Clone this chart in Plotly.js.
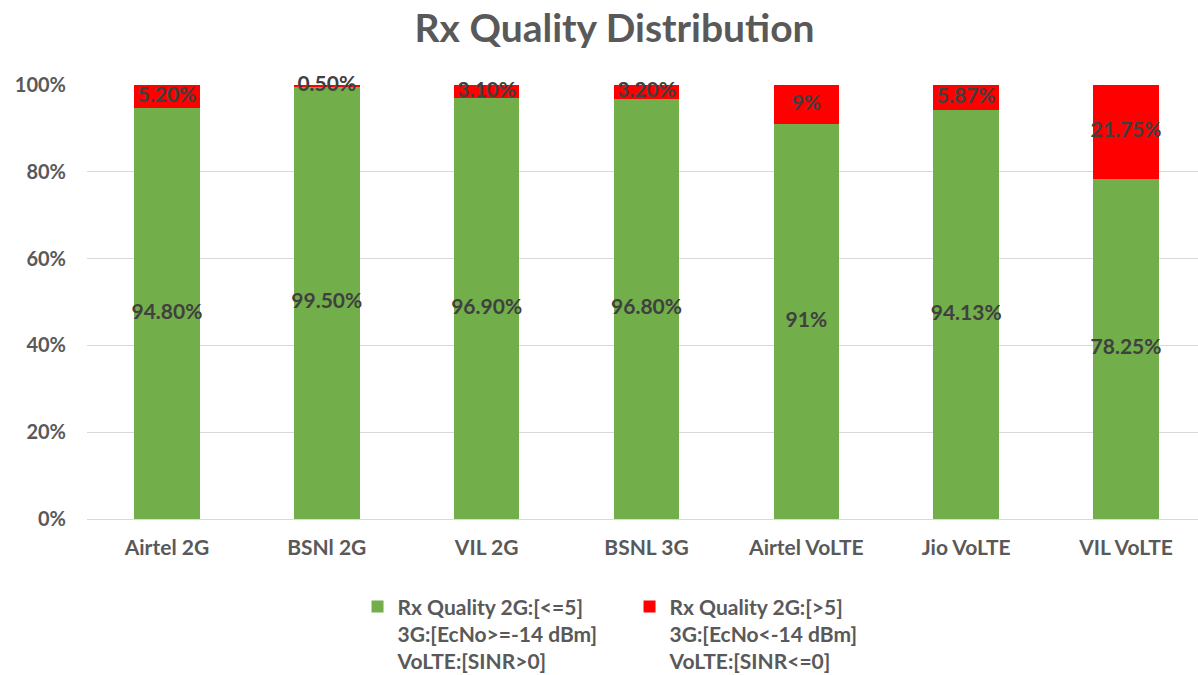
<!DOCTYPE html>
<html>
<head>
<meta charset="utf-8">
<script src="https://cdn.plot.ly/plotly-3.0.1.min.js"></script>
<style>html,body{margin:0;padding:0;background:#fff;}#chart{width:1198px;height:675px;}</style>
</head>
<body>
<div id="chart"></div>
<script>
const categories = ["Airtel 2G", "BSNl 2G", "VIL 2G", "BSNL 3G", "Airtel VoLTE", "Jio VoLTE", "VIL VoLTE"];
const goodValues = [94.8, 99.5, 96.9, 96.8, 91, 94.13, 78.25];
const badValues = [5.2, 0.5, 3.1, 3.2, 9, 5.87, 21.75];
const goodLabels = ["94.80%", "99.50%", "96.90%", "96.80%", "91%", "94.13%", "78.25%"];
const badLabels = ["5.20%", "0.50%", "3.10%", "3.20%", "9%", "5.87%", "21.75%"];
const yTickVals = [0, 20, 40, 60, 80, 100];
const yTickText = ["0%", "20%", "40%", "60%", "80%", "100%"];
const goodName = "Rx Quality 2G:[<=5]<br>3G:[EcNo>=-14 dBm]<br>VoLTE:[SINR>0]";
const badName = "Rx Quality 2G:[>5]<br>3G:[EcNo<-14 dBm]<br>VoLTE:[SINR<=0]";

const FONT = "Lato, 'Open Sans', sans-serif";
const goodMid = goodValues.map(v => v / 2);
const badMid = badValues.map((v, i) => goodValues[i] + v / 2);

const traces = [
  {type: "bar", name: goodName, x: categories, y: goodValues, width: 0.41,
   marker: {color: "#72AE4A"}, hoverinfo: "skip"},
  {type: "bar", name: badName, x: categories, y: badValues, width: 0.41,
   marker: {color: "#FF0000"}, hoverinfo: "skip"},
  {type: "scatter", mode: "text", x: categories, y: goodMid, text: goodLabels,
   textfont: {family: FONT, size: 21, color: "#404040", weight: "bold"},
   showlegend: false, hoverinfo: "skip", cliponaxis: false},
  {type: "scatter", mode: "text", x: categories, y: badMid, text: badLabels,
   textfont: {family: FONT, size: 21, color: "#404040", weight: "bold"},
   showlegend: false, hoverinfo: "skip", cliponaxis: false}
];

const layout = {
  width: 1198, height: 675,
  paper_bgcolor: "#ffffff", plot_bgcolor: "#ffffff",
  margin: {l: 87, r: 0, t: 85, b: 156, autoexpand: false},
  barmode: "stack",
  font: {family: FONT, color: "#595959"},
  title: {text: "<b>Rx Quality Distribution</b>", x: 0.513, xanchor: "center", y: 0.958, yanchor: "middle",
          font: {family: FONT, size: 39, color: "#595959"}},
  xaxis: {type: "category", range: [-0.5, 6.45], showgrid: false, zeroline: false, automargin: false,
          showline: true, linecolor: "#d9d9d9", ticks: "", ticklabelstandoff: 10,
          tickfont: {family: FONT, size: 21, color: "#595959", weight: "bold"}},
  yaxis: {range: [0, 100], tickmode: "array", tickvals: yTickVals, ticktext: yTickText, automargin: false,
          showgrid: true, gridcolor: "#d9d9d9", gridwidth: 1.3, zeroline: false, showline: false,
          ticks: "", ticklabelstandoff: 20,
          tickfont: {family: FONT, size: 20, color: "#595959", weight: "bold"}},
  legend: {orientation: "h", x: 0.2435, xanchor: "left", y: -0.155, yanchor: "top",
           valign: "top", traceorder: "normal", entrywidth: 227,
           font: {family: FONT, size: 21, color: "#595959", weight: "bold"}},
  showlegend: true
};

Plotly.newPlot("chart", traces, layout, {displayModeBar: false, staticPlot: true});
</script>
</body>
</html>
